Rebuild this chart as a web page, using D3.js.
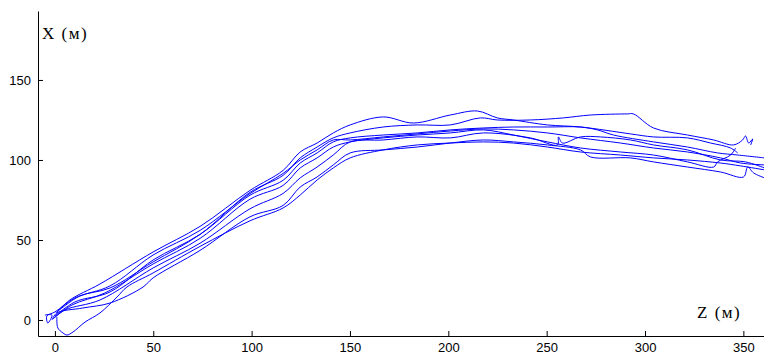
<!DOCTYPE html>
<html lang="ru">
<head>
    <meta charset="UTF-8">
    <title>Траектории</title>
    <script src="https://cdn.jsdelivr.net/npm/d3@7/dist/d3.min.js"></script>
    <style>
        body { margin: 0; background: #fff; }
        svg { display: block; }
    </style>
</head>
<body>
<svg id="main" width="764" height="356"></svg>
<script>
   // tick values
   zTicks = [0, 50, 100, 150, 200, 250, 300, 350];
   xTicks = [0, 50, 100, 150];

   // trajectories, [Z, X] in metres
   track1 = [[0.5,4.4],[7.6,12.5],[22.9,22.5],[49.9,42.5],[73.8,58.5],[99.2,81.0],[116.0,93.5],[124.7,105.0],[133.3,110.6],[141.5,116.9],[150.1,121.9],[166.9,126.9],[182.2,123.1],[201.0,128.1],[214.8,130.6],[224.9,126.3],[233.1,125.0],[250.4,121.9],[267.2,120.6],[292.6,116.3],[304.3,114.4],[321.6,113.8],[333.3,110.6],[343.5,107.5],[347.1,104.4]];
   track2 = [[1.0,5.0],[12.7,15.0],[28.0,20.0],[49.9,36.3],[73.8,53.5],[99.2,79.8],[116.0,90.4],[124.7,101.3],[133.3,108.1],[141.5,113.8],[150.1,116.9],[166.9,120.6],[184.2,121.9],[201.0,121.9],[216.3,126.3],[224.9,125.0],[241.7,125.0],[258.5,126.3],[272.3,128.1],[291.1,128.8],[294.1,128.8],[304.3,120.0],[321.6,115.6],[334.9,112.5],[345.0,109.4],[349.6,112.5],[351.1,115.0],[352.7,110.6],[354.7,113.1],[353.7,109.4]];
   track3 = [[0,2.5],[10.2,11.3],[28.0,17.5],[49.9,37.5],[73.8,53.5],[99.2,78.0],[116.0,87.3],[124.7,98.1],[133.3,104.4],[141.5,111.3],[150.1,113.8],[166.9,115.6],[184.2,116.9],[201.0,118.8],[217.8,120.0],[233.1,120.6],[250.4,120.6],[267.2,120.6],[275.8,118.8],[284.0,115.6],[304.3,111.3],[321.6,108.1],[336.9,104.4],[347.1,103.1],[360.8,101.3]];
   track4 = [[-0.5,1.3],[8.7,9.4],[25.4,16.9],[49.9,35.0],[73.8,51.0],[99.2,75.5],[116.0,84.1],[124.7,95.0],[133.3,101.3],[141.5,108.1],[150.1,111.3],[166.9,113.8],[184.2,115.6],[201.0,116.9],[217.8,118.8],[233.1,115.6],[250.4,111.3],[267.2,107.5],[287.5,105.0],[304.3,103.1],[321.6,98.8],[334.9,95.6],[336.9,98.8],[343.5,103.1],[346.1,107.5]];
   track5 = [[-1.0,0.6],[5.1,6.3],[22.9,12.5],[49.9,32.5],[73.8,48.0],[99.2,69.5],[116.0,79.1],[124.7,88.8],[133.3,95.6],[141.5,103.1],[150.1,111.3],[166.9,112.5],[184.2,114.4],[201.0,113.8],[217.8,116.9],[241.7,113.8],[255.5,109.4],[256.0,114.4],[258.0,110.6],[267.2,114.4],[277.4,114.4],[292.6,112.5],[304.3,109.4],[321.6,106.3],[338.4,100.0],[351.1,98.8],[360.8,95.0]];
   track6 = [[-1.5,0],[1.0,4.4],[14.2,7.5],[28.0,10.6],[44.8,20.6],[49.9,26.3],[73.8,43.5],[99.2,64.5],[116.0,71.6],[124.7,83.1],[133.3,89.4],[141.5,96.9],[150.1,104.4],[166.9,106.3],[184.2,108.1],[201.0,110.6],[217.8,112.5],[233.1,111.3],[250.4,109.4],[267.2,106.3],[272.3,101.9],[292.6,101.3],[304.3,98.8],[321.6,95.6],[338.4,92.5],[350.1,89.4],[352.2,95.6],[355.2,91.9],[360.8,88.8]];
   track7 = [[1.0,1.9],[1.5,-5.0],[4.1,-8.1],[6.1,-9.4],[9.2,-7.5],[15.3,-1.3],[22.9,4.4],[31.6,14.4],[36.6,20.6],[49.9,29.4],[73.8,46.0],[99.2,62.0],[116.0,70.0],[124.7,78.1],[133.3,87.5],[141.5,95.0],[150.1,101.3],[166.9,106.3],[184.2,109.4],[201.0,110.6],[217.8,111.3],[233.1,110.6],[250.4,108.1],[267.2,105.0],[287.5,103.1],[304.3,101.3],[321.6,100.0],[338.4,98.1],[348.6,96.3],[360.8,93.8]];
   track8 = [[-5.1,3.1],[-1.5,3.1],[-3.6,-1.9],[-4.1,2.5],[0,5.0],[10.2,13.8],[28.0,21.3],[49.9,40.6],[73.8,56.0],[99.2,79.0],[116.0,91.6],[124.7,100.0],[133.3,106.3],[141.5,112.5],[150.1,112.5],[166.9,114.4],[184.2,116.3],[201.0,118.1],[217.8,119.4],[233.1,118.8],[250.4,116.9],[267.2,113.8],[287.5,110.6],[304.3,107.5],[321.6,105.0],[338.4,101.3],[348.6,98.1],[360.8,96.9]];

   tracks = [track1, track2, track3, track4, track5, track6, track7, track8];

   svg = d3.select('svg#main');

   left = 38;
   right = 765;
   top_ = 11;
   bottom = 336;

   var zScale = d3.scaleLinear().domain([-8.6, 361]).range([left, right]);
   var xScale = d3.scaleLinear().domain([-10, 193.1]).range([bottom, top_]);

   svg.append('defs').append('clipPath').attr('id', 'plot')
       .append('rect')
       .attr('x', left).attr('y', top_)
       .attr('width', right - left).attr('height', bottom - top_);

   var line = d3.line()
       .x(d => zScale(d[0]))
       .y(d => xScale(d[1]))
       .curve(d3.curveCatmullRom.alpha(0.5));

   svg.append('g')
       .attr('clip-path', 'url(#plot)')
       .selectAll('path')
       .data(tracks)
       .enter()
       .append('path')
       .attr('d', line)
       .attr('fill', 'none')
       .attr('stroke', '#0000ff')
       .attr('stroke-width', 1);

   // axes, MATLAB style: ticks pointing inside
   var gx = svg.append('g')
       .attr('transform', 'translate(0,' + bottom + ')')
       .call(d3.axisBottom(zScale).tickValues(zTicks).tickSize(-5).tickSizeOuter(0).tickPadding(7));
   var gy = svg.append('g')
       .attr('transform', 'translate(' + left + ',0)')
       .call(d3.axisLeft(xScale).tickValues(xTicks).tickSize(-5).tickSizeOuter(0).tickPadding(7));

   [gx, gy].forEach(function(g) {
       g.selectAll('text')
           .attr('font-family', '"Liberation Sans", Arial, sans-serif')
           .attr('font-size', 13)
           .attr('fill', '#000');
       g.selectAll('line, path').attr('stroke', '#000');
   });

   svg.append('text')
       .attr('x', 42).attr('y', 39)
       .attr('font-family', '"Liberation Serif", "Times New Roman", serif')
       .attr('font-size', 17)
       .attr('letter-spacing', 1.5)
       .text('X (м)');

   svg.append('text')
       .attr('x', 697).attr('y', 318)
       .attr('font-family', '"Liberation Serif", "Times New Roman", serif')
       .attr('font-size', 17)
       .attr('letter-spacing', 1.5)
       .text('Z (м)');
</script>
</body>
</html>
